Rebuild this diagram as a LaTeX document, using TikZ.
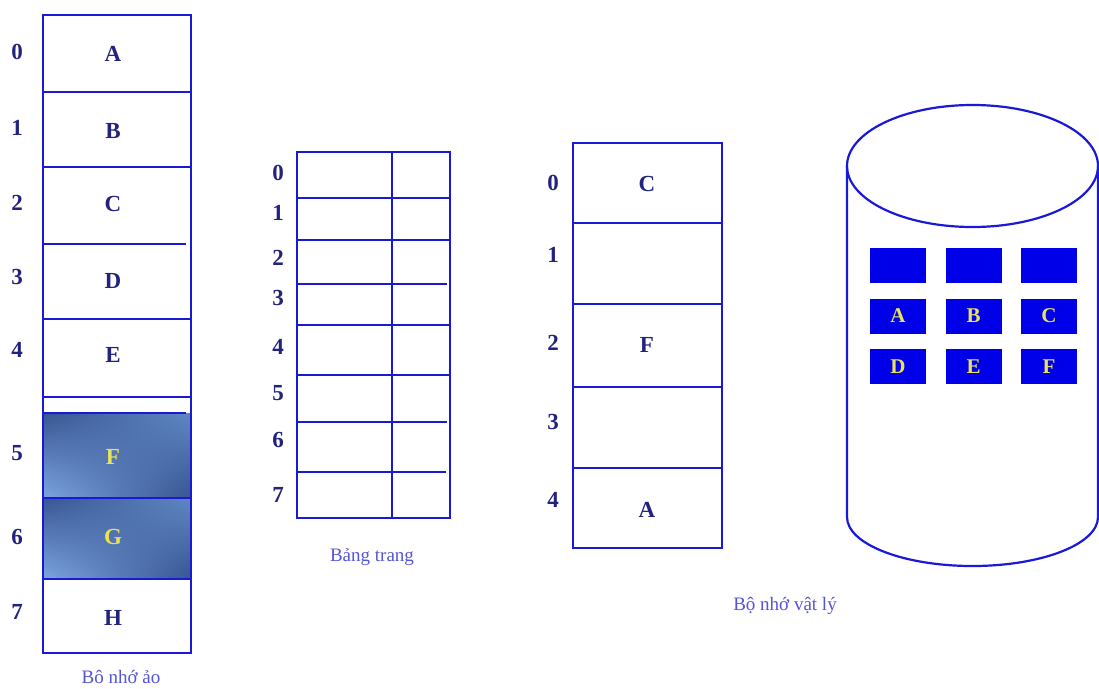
\documentclass[tikz,border=0pt]{standalone}
\usepackage{fontspec}
\usetikzlibrary{shadings}
\setmainfont{Liberation Serif}
\definecolor{lineblue}{RGB}{25,25,215}
\definecolor{labnavy}{RGB}{35,35,125}
\definecolor{capblue}{RGB}{85,85,215}
\definecolor{boxblue}{RGB}{0,0,232}
\definecolor{boxtext}{RGB}{235,225,90}
\definecolor{shdark}{RGB}{55,85,145}
\definecolor{shmid}{RGB}{95,135,195}
\definecolor{shlight}{RGB}{125,165,225}
\tikzset{
  x=1pt,y=-1pt,
  ln/.style={draw=lineblue,line width=2.4pt},
  idx/.style={font=\fontsize{23}{23}\selectfont\bfseries,text=labnavy,inner sep=0pt},
  cell/.style={font=\fontsize{23}{23}\selectfont\bfseries,text=labnavy,inner sep=0pt},
  captxt/.style={font=\fontsize{19}{19}\selectfont,text=capblue,inner sep=0pt},
  disk/.style={fill=boxblue,draw=none,minimum width=56pt,minimum height=35pt,inner sep=0pt,
    font=\fontsize{21}{21}\selectfont\bfseries,text=boxtext},
}
\begin{document}
\begin{tikzpicture}
\useasboundingbox[fill=white] (0,0) rectangle (1099,688);
% ---------- virtual memory ----------
\shade[upper left=shdark,upper right=shmid,lower left=shlight,lower right=shdark] (43,413) rectangle (190,498);
\shade[upper left=shdark,upper right=shmid,lower left=shlight,lower right=shdark] (43,498) rectangle (190,579);
\draw[ln] (43,15) rectangle (191,653);
\draw[ln] (43,92) -- (191,92);
\draw[ln] (43,167) -- (191,167);
\draw[ln] (43,244) -- (186,244);
\draw[ln] (43,319) -- (191,319);
\draw[ln] (43,397) -- (191,397);
\draw[ln] (43,413) -- (186,413);
\draw[ln] (43,498) -- (191,498);
\draw[ln] (43,579) -- (191,579);
\foreach \n/\y in {0/52,1/128,2/203,3/277,4/350,5/453,6/537,7/612}
  \node[idx] (v\n) at (17,\y) {\n};
\foreach \n/\t/\y in {0/A/54,1/B/131,2/C/204,3/D/281,4/E/355,7/H/618}
  \node[cell] (vc\n) at (113,\y) {\t};
\node[cell,text=boxtext] (vc5) at (113,457) {F};
\node[cell,text=boxtext] (vc6) at (113,537) {G};
\node[captxt] (capv) at (121,677) {Bô nhớ ảo};
% ---------- page table ----------
\draw[ln] (297,152) rectangle (450,518);
\draw[ln] (392,152) -- (392,518);
\foreach \y/\e in {198/450,240/450,284/447,325/450,375/450,422/447,472/446}
  \draw[ln] (297,\y) -- (\e,\y);
\foreach \n/\y in {0/173,1/213,2/258,3/298,4/347,5/393,6/440,7/495}
  \node[idx] (p\n) at (278,\y) {\n};
\node[captxt] (capp) at (372,557) {Bảng trang};
% ---------- physical memory ----------
\draw[ln] (573,143) rectangle (722,548);
\foreach \y in {223,304,387,468}
  \draw[ln] (573,\y) -- (722,\y);
\foreach \n/\y in {0/183,1/255,2/343,3/422,4/500}
  \node[idx] (f\n) at (553,\y) {\n};
\node[cell] (fc0) at (647,184) {C};
\node[cell] (fc2) at (647,345) {F};
\node[cell] (fc4) at (647,510) {A};
\node[captxt] (capf) at (785,606) {Bộ nhớ vật lý};
% ---------- disk ----------
\draw[ln,line width=2.2pt] (972.5,166) ellipse [x radius=125.5,y radius=61];
\draw[ln,line width=2.2pt] (847,166) -- (847,517) arc[start angle=180,end angle=0,x radius=125.5,y radius=49] -- (1098,166);
\node[disk] (d1) at (898,265.5) {};
\node[disk] (d2) at (973.5,265.5) {};
\node[disk] (d3) at (1049,265.5) {};
\node[disk] (dA) at (898,316) {A};
\node[disk] (dB) at (973.5,316) {B};
\node[disk] (dC) at (1049,316) {C};
\node[disk] (dD) at (898,366.5) {D};
\node[disk] (dE) at (973.5,366.5) {E};
\node[disk] (dF) at (1049,366.5) {F};
\end{tikzpicture}
\end{document}
